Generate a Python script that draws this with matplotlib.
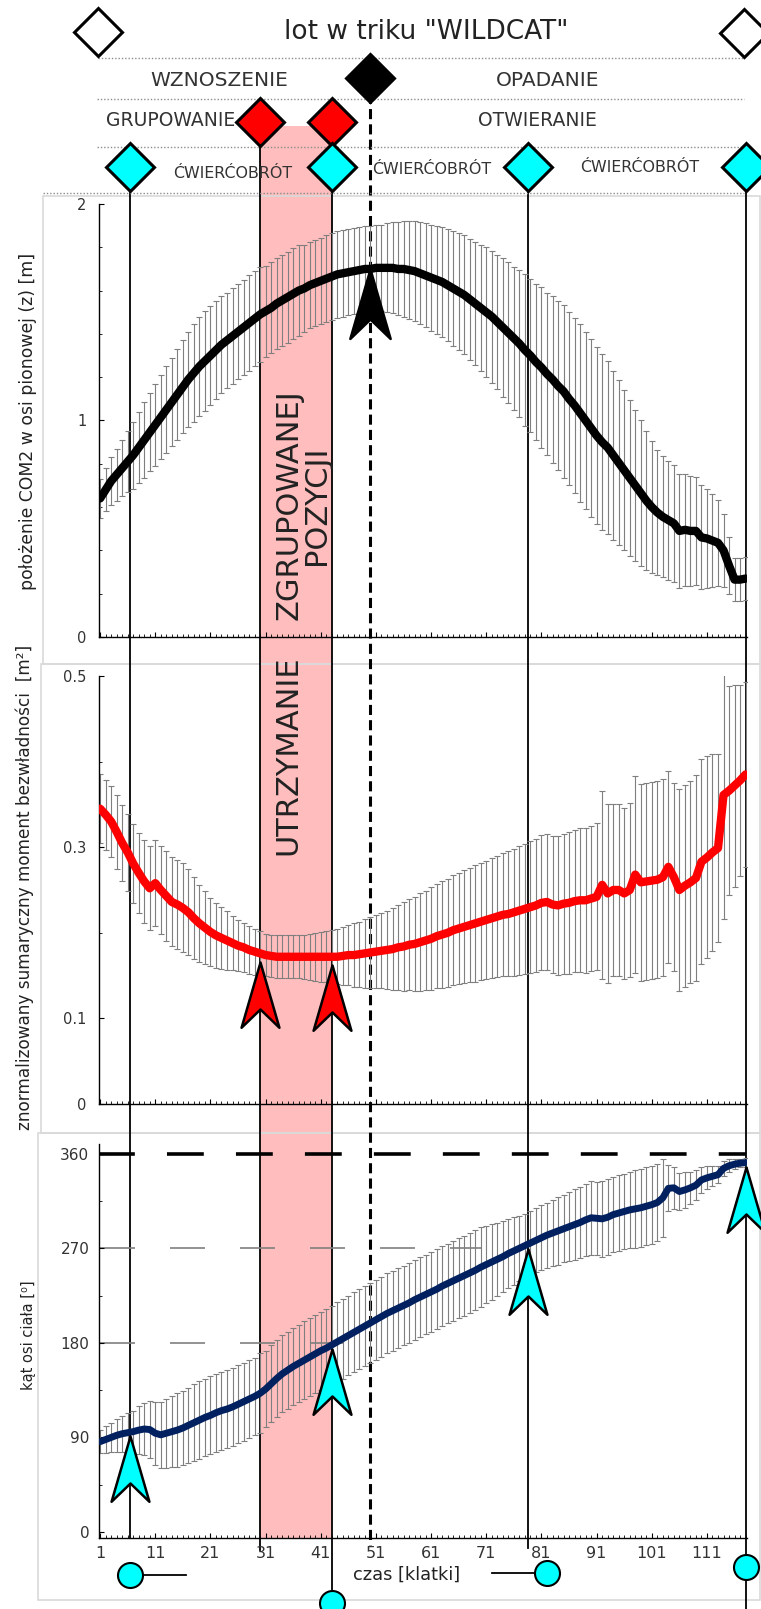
import numpy as np
import matplotlib
matplotlib.use("Agg")
import matplotlib.pyplot as plt
from matplotlib.lines import Line2D
from matplotlib.patches import Rectangle
from matplotlib.path import Path
from matplotlib.markers import MarkerStyle
from matplotlib import transforms

# frames of the flight
frames = np.arange(1, 119)

# vertical position of COM2 [m] (mean and SD)
com_z = [0.64, 0.68, 0.72, 0.75, 0.78, 0.81, 0.84, 0.875, 0.91, 0.945,
         0.98, 1.015, 1.05, 1.085, 1.12, 1.155, 1.19, 1.22, 1.25, 1.275,
         1.30, 1.325, 1.35, 1.37, 1.39, 1.41, 1.43, 1.45, 1.47, 1.49,
         1.505, 1.52, 1.54, 1.555, 1.57, 1.585, 1.60, 1.61, 1.625, 1.635,
         1.645, 1.655, 1.665, 1.675, 1.68, 1.685, 1.69, 1.695, 1.70, 1.70,
         1.705, 1.705, 1.705, 1.705, 1.70, 1.70, 1.695, 1.69, 1.68, 1.67,
         1.66, 1.65, 1.64, 1.625, 1.61, 1.595, 1.58, 1.56, 1.54, 1.52,
         1.50, 1.48, 1.455, 1.43, 1.405, 1.38, 1.355, 1.325, 1.30, 1.27,
         1.245, 1.215, 1.19, 1.16, 1.135, 1.10, 1.07, 1.035, 1.00, 0.965,
         0.93, 0.90, 0.875, 0.84, 0.805, 0.77, 0.735, 0.70, 0.665, 0.63,
         0.60, 0.575, 0.555, 0.54, 0.525, 0.49, 0.495, 0.49, 0.49, 0.46,
         0.455, 0.445, 0.435, 0.40, 0.33, 0.265, 0.265, 0.27]
com_z_sd = [0.09, 0.10, 0.11, 0.12, 0.13, 0.14, 0.155, 0.165, 0.175, 0.18,
            0.19, 0.195, 0.20, 0.205, 0.21, 0.215, 0.22, 0.225, 0.23, 0.23,
            0.23, 0.225, 0.225, 0.22, 0.22, 0.22, 0.22, 0.22, 0.22, 0.22,
            0.21, 0.21, 0.21, 0.21, 0.21, 0.21, 0.21, 0.20, 0.20, 0.20,
            0.20, 0.20, 0.20, 0.20, 0.20, 0.20, 0.20, 0.20, 0.20, 0.20,
            0.20, 0.20, 0.205, 0.21, 0.215, 0.22, 0.225, 0.23, 0.235, 0.24,
            0.245, 0.25, 0.255, 0.26, 0.265, 0.27, 0.275, 0.28, 0.285, 0.29,
            0.30, 0.305, 0.31, 0.32, 0.325, 0.33, 0.34, 0.35, 0.355, 0.36,
            0.37, 0.375, 0.385, 0.39, 0.40, 0.40, 0.405, 0.41, 0.41, 0.41,
            0.41, 0.405, 0.40, 0.39, 0.38, 0.37, 0.36, 0.35, 0.335, 0.32,
            0.305, 0.29, 0.28, 0.275, 0.27, 0.265, 0.26, 0.255, 0.25, 0.24,
            0.23, 0.215, 0.20, 0.17, 0.13, 0.10, 0.10, 0.10]

# normalized total moment of inertia [m2]
inertia = [0.345, 0.338, 0.330, 0.318, 0.305, 0.294, 0.281, 0.270, 0.260, 0.252,
           0.258, 0.250, 0.243, 0.236, 0.233, 0.229, 0.224, 0.217, 0.211, 0.206,
           0.201, 0.197, 0.194, 0.191, 0.188, 0.185, 0.183, 0.180, 0.178, 0.176,
           0.174, 0.173, 0.172, 0.172, 0.172, 0.172, 0.172, 0.172, 0.172, 0.172,
           0.172, 0.172, 0.172, 0.172, 0.173, 0.174, 0.174, 0.175, 0.176, 0.177,
           0.178, 0.179, 0.180, 0.181, 0.183, 0.184, 0.186, 0.187, 0.189, 0.191,
           0.193, 0.196, 0.198, 0.200, 0.203, 0.205, 0.207, 0.209, 0.211, 0.213,
           0.215, 0.217, 0.219, 0.221, 0.222, 0.224, 0.226, 0.228, 0.230, 0.232,
           0.235, 0.236, 0.233, 0.232, 0.234, 0.235, 0.237, 0.238, 0.238, 0.240,
           0.242, 0.256, 0.246, 0.250, 0.250, 0.246, 0.250, 0.268, 0.259, 0.260,
           0.261, 0.262, 0.265, 0.277, 0.265, 0.250, 0.255, 0.259, 0.264, 0.283,
           0.288, 0.294, 0.299, 0.361, 0.366, 0.372, 0.378, 0.385]
inertia_sd = [0.040, 0.041, 0.042, 0.043, 0.044, 0.045, 0.046, 0.047, 0.048, 0.049,
              0.050, 0.051, 0.052, 0.052, 0.052, 0.052, 0.050, 0.048, 0.045, 0.043,
              0.040, 0.038, 0.036, 0.034, 0.032, 0.030, 0.029, 0.028, 0.027, 0.026,
              0.025, 0.025, 0.025, 0.025, 0.025, 0.025, 0.025, 0.026, 0.027, 0.028,
              0.029, 0.030, 0.031, 0.032, 0.034, 0.035, 0.037, 0.038, 0.040, 0.041,
              0.043, 0.044, 0.046, 0.048, 0.050, 0.052, 0.053, 0.055, 0.057, 0.058,
              0.060, 0.061, 0.062, 0.063, 0.064, 0.065, 0.066, 0.067, 0.068, 0.068,
              0.069, 0.070, 0.071, 0.072, 0.073, 0.074, 0.075, 0.076, 0.077, 0.078,
              0.079, 0.080, 0.080, 0.081, 0.082, 0.083, 0.083, 0.084, 0.085, 0.085,
              0.086, 0.110, 0.105, 0.100, 0.100, 0.100, 0.102, 0.115, 0.115, 0.115,
              0.115, 0.115, 0.115, 0.112, 0.110, 0.118, 0.118, 0.118, 0.120, 0.120,
              0.118, 0.115, 0.110, 0.145, 0.122, 0.118, 0.112, 0.108]

# body axis angle [deg]
angle = [86, 88, 90, 92, 93.5, 94.5, 95.5, 97, 98, 97.5,
         94, 92.5, 94, 95.5, 97, 99, 101.5, 104, 106.5, 109,
         111, 113.5, 115.5, 117, 119, 121.5, 124, 126.5, 129, 132,
         136, 141, 146, 150.5, 154, 157.5, 160.5, 163.5, 166.5, 169.5,
         172.5, 175, 178, 181, 184, 187, 190, 193, 196, 199,
         202, 205, 208, 210.5, 213, 215.5, 218, 221, 223.5, 226,
         228.5, 231, 234, 236.5, 239, 241.5, 244, 246.5, 249, 252,
         254.5, 257, 259.5, 262, 265, 267.5, 270, 272.5, 275, 277.5,
         280, 282.5, 284.5, 286.5, 288.5, 290.5, 292.5, 294.5, 297, 299,
         298.5, 298, 299.5, 302, 303.5, 305, 306.5, 307.5, 308.5, 310,
         311.5, 313.5, 318, 327, 327.5, 324, 325.5, 327.5, 330, 335,
         337, 338.5, 340, 346, 348.5, 350, 351, 351.5]
angle_sd = [11, 12.5, 14, 15.5, 17, 18.5, 20, 22.5, 25, 27.5,
            30, 31.5, 33, 34, 35, 35.5, 36, 36.5, 37, 37,
            37, 37, 37, 37, 37, 37, 37, 37, 37, 38,
            36.5, 36.5, 36.5, 36.5, 36.5, 36.5, 36.5, 37, 37, 37,
            37, 37, 37, 38, 38, 38, 38, 38, 38, 38,
            38, 38, 38, 38, 38, 38, 38, 38, 38, 38,
            38, 38, 38, 38, 38, 38, 38, 38, 38, 38,
            37, 36, 35, 34, 33, 32, 31, 30, 30, 30.5,
            31, 31, 31.5, 32, 32, 33, 33.5, 34, 34, 35,
            35, 36, 36, 36, 36, 36, 36, 37, 37, 37,
            37, 37, 37, 22, 20, 18, 17, 15, 14, 12.5,
            11, 9.5, 8, 7, 6, 5, 4, 4]

# events (frame numbers)
ev_start, ev_end = 1, 118
ev_top = 50                       # highest point: WZNOSZENIE / OPADANIE
ev_group = [30, 43]               # grouped position held
ev_quarter = [6.5, 43, 78.5, 118] # quarter turns
angle_refs = [(360, 0.7, 118), (270, 1, 70), (180, 1, 45)]

W, H = 761, 1609
def fx(px):
    return px / W
def fy(py):
    return 1 - py / H

plt.rcParams['font.family'] = ['DejaVu Sans']
txt = '#333333'

fig = plt.figure(figsize=(W / 100, H / 100), dpi=100)
ax1 = fig.add_axes([fx(99), fy(637), 647.7 / W, 433 / H])
ax2 = fig.add_axes([fx(99), fy(1104), 647.7 / W, 428 / H])
ax3 = fig.add_axes([fx(99), fy(1538), 647.7 / W, 394 / H])

for ax in (ax1, ax2, ax3):
    ax.set_facecolor('none')
    ax.set_xlim(0.8, 118.2)
    for s in ('top', 'right'):
        ax.spines[s].set_visible(False)
    ax.spines['left'].set_linewidth(1.0)
    ax.spines['bottom'].set_linewidth(1.0)
    ax.set_xticks(np.arange(1, 119, 10))
    ax.set_xticks(frames, minor=True)
    ax.tick_params(which='both', direction='in', colors='k', labelcolor=txt)
    ax.tick_params(which='major', length=3.5, width=0.8)
    ax.tick_params(which='minor', length=2.2, width=0.6)
ax1.set_xticklabels([])
ax2.set_xticklabels([])
ax3.tick_params(axis='x', labelsize=11.5, pad=6)

trans = transforms.blended_transform_factory(ax1.transData, fig.transFigure)

# panel frames
for x0, y0, y1 in [(43, 196, 664), (41, 664, 1133), (38, 1133, 1600)]:
    fig.add_artist(Rectangle((fx(x0), fy(y1)), (760 - x0) / W, (y1 - y0) / H,
                             transform=fig.transFigure, fill=False,
                             edgecolor='#d9d9d9', lw=1.2, zorder=-0.8))

# pink span (grouped position)
fig.add_artist(Rectangle((ev_group[0], fy(1538)), ev_group[1] - ev_group[0],
                         (1538 - 126) / H, transform=trans,
                         facecolor='#ffbdbd', edgecolor='none', zorder=-1))

# vertical event lines
vlines = [(ev_quarter[0], 167, 1538), (ev_group[0], 122, 1550),
          (ev_group[1], 122, 1600), (ev_quarter[2], 167, 1548),
          (ev_quarter[3], 167, 1609)]
for e, y0, y1 in vlines:
    fig.add_artist(Line2D([e, e], [fy(y0), fy(y1)], transform=trans,
                          color='k', lw=1.3, zorder=-0.5))
fig.add_artist(Line2D([ev_top, ev_top], [fy(78), fy(1545)], transform=trans,
                      color='k', lw=2.2, dashes=(3.3, 1.7), zorder=-0.5))

# header
for yy, x0 in [(58, 98), (99, 97), (147, 97), (193, 43)]:
    fig.add_artist(Line2D([fx(x0), fx(744)], [fy(yy)] * 2, transform=fig.transFigure,
                          color='#8c8c8c', lw=1.0, ls=(0, (1, 1.4)), zorder=1))

fig.text(fx(426), fy(32), 'lot w triku "WILDCAT"', fontsize=19, color='#222222',
         ha='center', va='center')
fig.text(fx(219), fy(81), 'WZNOSZENIE', fontsize=14.5, color=txt, ha='center', va='center')
fig.text(fx(548), fy(80), 'OPADANIE', fontsize=14.5, color=txt, ha='center', va='center')
fig.text(fx(171), fy(120), 'GRUPOWANIE', fontsize=13.5, color=txt, ha='center', va='center')
fig.text(fx(537), fy(120), 'OTWIERANIE', fontsize=13.5, color=txt, ha='center', va='center')
for xx, yy in [(233, 173), (432, 170), (640, 168)]:
    fig.text(fx(xx), fy(yy), 'ĆWIERĆOBRÓT', fontsize=11.4, color=txt,
             ha='center', va='center')

def diamond(x, ypx, fc):
    fig.add_artist(Line2D([x], [fy(ypx)], transform=trans, marker='D', ms=24,
                          mfc=fc, mec='k', mew=2.2, ls='none', zorder=5))

diamond(ev_start - 0.4, 32, 'white')
diamond(ev_end - 0.2, 33, 'white')
diamond(ev_top, 78, 'black')
for e in ev_group:
    diamond(e, 122, '#ff0000')
for e in ev_quarter:
    diamond(e, 167, '#00ffff')

# big rotated label in the pink span
fig.text(fx(288), fy(755), 'UTRZYMANIE', rotation=90, fontsize=22,
         color='#222222', ha='center', va='center')
fig.text(fx(303), fy(505), 'ZGRUPOWANEJ\nPOZYCJI', rotation=90, fontsize=22,
         color='#222222', ha='center', va='center', multialignment='center',
         linespacing=0.95)

# arrow marker (tip at the data point)
arrow = MarkerStyle(Path([(0, 0), (0.29, -1), (0, -0.72), (-0.29, -1), (0, 0)],
                         [Path.MOVETO, Path.LINETO, Path.LINETO, Path.LINETO,
                          Path.CLOSEPOLY]), joinstyle='miter')

# panel 1
ax1.errorbar(frames, com_z, yerr=com_z_sd, fmt='none', ecolor='#7f7f7f',
             elinewidth=0.8, capsize=2.2, capthick=0.8, zorder=2)
ax1.plot(frames, com_z, color='k', lw=6, solid_capstyle='round',
         solid_joinstyle='round', zorder=3)
ax1.set_ylim(0, 2)
ax1.set_yticks([0, 1, 2])
ax1.set_yticklabels(['0', '1', '2'])
ax1.set_yticks(np.arange(0, 2.01, 0.2), minor=True)
ax1.tick_params(axis='y', labelsize=10.5, pad=9)
ax1.plot([ev_top], [np.interp(ev_top, frames, com_z)], marker=arrow, ms=100,
         mfc='k', mec='k', mew=1.8, ls='none', clip_on=False, zorder=6)

# panel 2
ax2.errorbar(frames, inertia, yerr=inertia_sd, fmt='none', ecolor='#7f7f7f',
             elinewidth=0.8, capsize=2.2, capthick=0.8, zorder=2)
ax2.plot(frames, inertia, color='#ff0000', lw=6, solid_capstyle='round',
         solid_joinstyle='round', zorder=3)
ax2.set_ylim(0, 0.5)
ax2.set_yticks([0, 0.1, 0.3, 0.5])
ax2.set_yticklabels(['0', '0.1', '0.3', '0.5'])
ax2.set_yticks(np.arange(0, 0.51, 0.1), minor=True)
ax2.tick_params(axis='y', labelsize=10.5, pad=9)
for e in ev_group:
    ax2.plot([e], [np.interp(e, frames, inertia) - 0.01], marker=arrow, ms=94,
             mfc='#ff0000', mec='k', mew=1.8, ls='none', clip_on=False, zorder=6)

# panel 3
for val, a, b in angle_refs:
    if val == 360:
        ax3.plot([a, b], [val, val], color='k', lw=2.6, dashes=(10.2, 8.9), zorder=1)
    else:
        ax3.plot([a, b], [val, val], color='#7f7f7f', lw=1.2, dashes=(21, 21), zorder=1)
ax3.errorbar(frames, angle, yerr=angle_sd, fmt='none', ecolor='#7f7f7f',
             elinewidth=0.8, capsize=2.2, capthick=0.8, zorder=2)
ax3.plot(frames, angle, color='#002060', lw=5, solid_capstyle='round',
         solid_joinstyle='round', zorder=3)
ax3.set_ylim(-5.7, 369.2)
ax3.set_yticks([0, 90, 180, 270, 360])
ax3.set_yticks(np.arange(0, 361, 45), minor=True)
ax3.tick_params(axis='y', labelsize=11, pad=7)
for e in ev_quarter:
    ax3.plot([e], [np.interp(e, frames, angle) - 4], marker=arrow, ms=94,
             mfc='#00ffff', mec='k', mew=1.8, ls='none', clip_on=False, zorder=6)

# axis labels
fig.text(fx(28), fy(421), 'położenie COM2 w osi pionowej (z) [m]', rotation=90,
         fontsize=12.4, color='#222222', ha='center', va='center')
fig.text(fx(25), fy(887), 'znormalizowany sumaryczny moment bezwładności  [m²]',
         rotation=90, fontsize=12.2, color='#222222', ha='center', va='center')
fig.text(fx(28), fy(1335), 'kąt osi ciała [⁰]', rotation=90,
         fontsize=10.5, color='#222222', ha='center', va='center')
fig.text(fx(407), fy(1575), 'czas [klatki]', fontsize=12.8, color='#222222',
         ha='center', va='center')

# small orientation icons below the time axis
icons = [(ev_quarter[0], 1575, 10), (ev_quarter[1], 1603, 0),
         (82, 1573, -10), (ev_quarter[3], 1567, 0)]
for e, yy, tail in icons:
    if tail:
        fig.add_artist(Line2D([e, e + tail], [fy(yy)] * 2, transform=trans,
                              color='k', lw=1.3, zorder=4))
    fig.add_artist(Line2D([e], [fy(yy)], transform=trans, marker='o', ms=18,
                          mfc='#00ffff', mec='k', mew=1.5, ls='none', zorder=5))

fig.savefig('out.png', dpi=100)
